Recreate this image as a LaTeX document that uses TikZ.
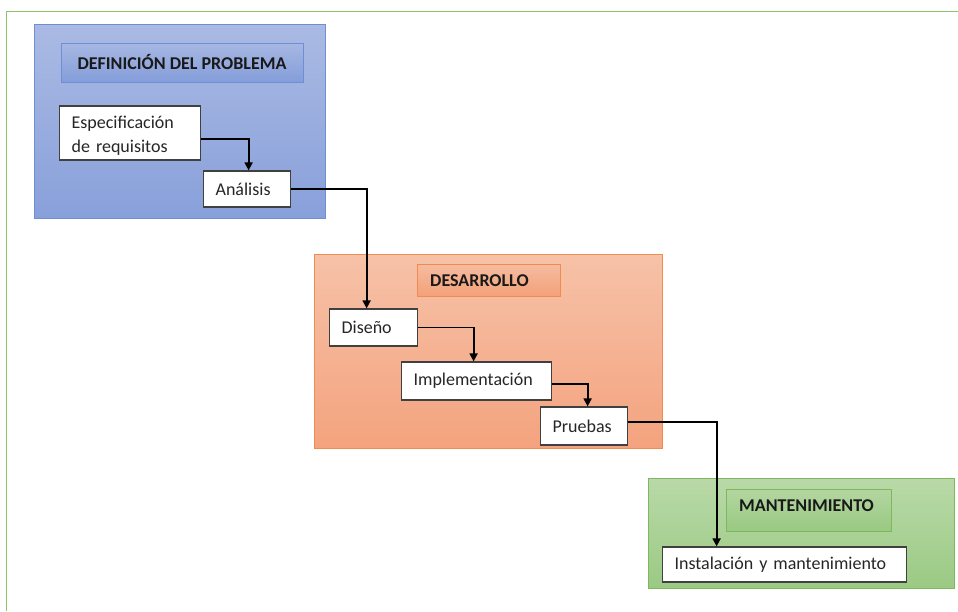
\documentclass[tikz,border=0pt]{standalone}
\usepackage{fontspec}
\setmainfont{Carlito}
\usetikzlibrary{arrows.meta}

\definecolor{frameGreen}{HTML}{8CC46C}
\definecolor{boxLine}{HTML}{404040}
\definecolor{blueTop}{HTML}{AABAE3}
\definecolor{blueBot}{HTML}{88A0DA}
\definecolor{blueLine}{HTML}{6E8ED6}
\definecolor{orangeTop}{HTML}{F6C2A8}
\definecolor{orangeBot}{HTML}{F4A37E}
\definecolor{orangeLine}{HTML}{F08C50}
\definecolor{greenTop}{HTML}{B9D9A8}
\definecolor{greenBot}{HTML}{9BCA84}
\definecolor{greenLine}{HTML}{7DB95C}

\begin{document}
\begin{tikzpicture}[x=1pt,y=-1pt,
  stepbox/.style={draw=boxLine, fill=white, line width=1.2pt, anchor=west,
    align=left, inner xsep=12pt, inner ysep=0pt, text=black!85,
    font=\fontsize{18}{24}\selectfont},
  titletext/.style={font=\bfseries\fontsize{18}{20}\selectfont, text=black!90},
  flow/.style={line width=1.8pt, -{Triangle[width=8pt,length=8pt]}},
]
\useasboundingbox (0,0) rectangle (958,611);

% outer frame (runs off the right and bottom edges)
\draw[frameGreen, line width=1.6pt] (6.5,611) -- (6.5,11.5) -- (958,11.5);

% phase panels
\shade[top color=blueTop, bottom color=blueBot] (34,24) rectangle (325,218);
\draw[blueLine, line width=1pt] (34,24) rectangle (325,218);
\shade[top color=orangeTop, bottom color=orangeBot] (314,254) rectangle (662,448);
\draw[orangeLine, line width=1pt] (314,254) rectangle (662,448);
\shade[top color=greenTop, bottom color=greenBot] (648,478) rectangle (954,588);
\draw[greenLine, line width=1pt] (648,478) rectangle (954,588);

% phase titles
\shade[top color=blueTop!90!blueBot, bottom color=blueBot!85!blueLine] (61,43) rectangle (303,82);
\draw[blueLine, line width=1pt] (61,43) rectangle (303,82);
\node[titletext] (tdef) at (182,61.5) {DEFINICIÓN DEL PROBLEMA};

\shade[top color=orangeTop!80!orangeBot, bottom color=orangeBot!90!orangeLine] (417,264) rectangle (560,296);
\draw[orangeLine, line width=1pt] (417,264) rectangle (560,296);
\node[titletext, anchor=west, inner sep=0pt] (tdes) at (430,281) {DESARROLLO};

\shade[top color=greenTop!80!greenBot, bottom color=greenBot!95!greenLine] (726,489) rectangle (891,531);
\draw[greenLine, line width=1pt] (726,489) rectangle (891,531);
\node[titletext, anchor=west, inner sep=0pt] (tman) at (739,506) {MANTENIMIENTO};

% steps
\node[stepbox, text width=117pt, minimum height=54pt] (esp) at (59,133) {\strut\raisebox{-2pt}{Especificación}\\\raisebox{-2pt}{de requisitos}};
\node[stepbox, text width=63pt, minimum height=36pt] (ana) at (203,189) {Análisis};
\node[stepbox, text width=64pt, minimum height=37pt] (dis) at (329,327.5) {Diseño};
\node[stepbox, text width=126pt, minimum height=38pt] (imp) at (401,381) {Implementación};
\node[stepbox, text width=63pt, minimum height=38pt] (pru) at (540,426) {Pruebas};
\node[stepbox, text width=220pt, minimum height=35pt] (ins) at (662,564.5) {Instalación y mantenimiento};

% flow connectors
\draw[flow] ([yshift=-6pt]esp.east) -| ([xshift=1.5pt]ana.north);
\draw[flow] (ana.east) -| ([xshift=-7pt]dis.north);
\draw[flow] (dis.east) -| ([xshift=-3pt]imp.north);
\draw[flow] ([yshift=-3pt]imp.east) -| ([xshift=3.5pt]pru.north);
\draw[flow] ([yshift=4pt]pru.east) -| ([xshift=-68pt]ins.north);
\end{tikzpicture}
\end{document}
